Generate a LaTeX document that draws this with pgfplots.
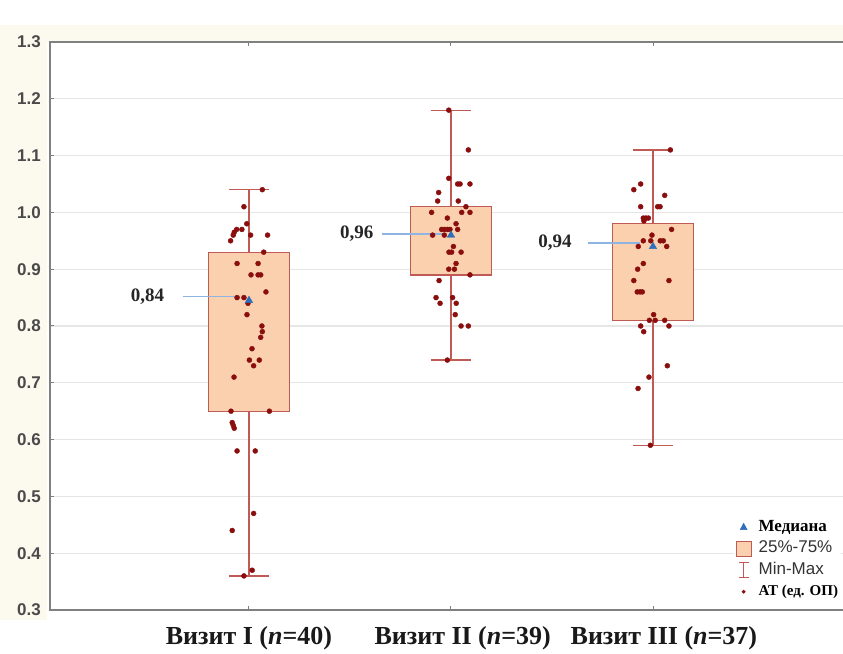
\documentclass[border=0pt]{standalone}
\usepackage{fontspec}
\setmainfont{Liberation Serif}
\setsansfont{Liberation Sans}
\usepackage{pgfplots}
\pgfplotsset{compat=1.18}
\definecolor{cream}{HTML}{FCF9EE}
\definecolor{boxfill}{HTML}{FAD0AE}
\definecolor{boxedge}{HTML}{BF5A55}
\definecolor{ptred}{HTML}{8B0E0E}
\definecolor{medblue}{HTML}{2F6EBA}
\definecolor{medline}{HTML}{8EB4E3}
\definecolor{gridgray}{HTML}{E6E6E6}
\definecolor{axisgray}{HTML}{808080}
\definecolor{tickgray}{HTML}{4A4A4A}

\pgfplotstableread{
x y
1.066 1.04
0.975 1.01
0.989 0.98
0.965 0.97
0.939 0.97
0.927 0.965
0.922 0.96
0.909 0.95
1.008 0.96
1.092 0.96
1.073 0.93
0.941 0.91
1.045 0.91
1.010 0.89
1.045 0.89
1.058 0.89
1.084 0.86
0.941 0.85
0.975 0.85
0.995 0.84
0.990 0.82
1.064 0.80
1.066 0.79
1.058 0.78
1.015 0.76
1.002 0.74
1.051 0.74
1.023 0.73
0.926 0.71
0.911 0.65
1.101 0.65
0.917 0.63
0.922 0.625
0.927 0.62
0.941 0.58
1.031 0.58
1.023 0.47
0.917 0.44
1.016 0.37
0.975 0.36
}\visitA

\pgfplotstableread{
x y
1.989 1.18
2.086 1.11
1.989 1.06
2.033 1.05
2.045 1.05
2.094 1.05
1.939 1.035
1.934 1.02
2.036 1.02
2.074 1.01
1.904 1.00
2.053 1.00
2.094 1.00
1.982 0.99
2.025 0.98
1.954 0.97
1.967 0.97
1.982 0.97
1.995 0.97
2.033 0.97
1.909 0.96
1.967 0.96
2.012 0.94
1.990 0.93
2.003 0.93
2.050 0.93
2.025 0.91
1.989 0.90
2.017 0.90
2.094 0.89
1.941 0.88
1.926 0.85
1.946 0.84
2.008 0.85
2.026 0.84
2.021 0.82
2.050 0.80
2.086 0.80
1.982 0.74
}\visitB

\pgfplotstableread{
x y
3.086 1.11
2.939 1.05
2.905 1.04
3.058 1.03
2.939 1.01
3.023 1.01
3.035 1.01
2.952 0.99
2.965 0.99
2.977 0.99
2.955 0.985
3.092 0.97
2.995 0.96
2.952 0.95
2.989 0.95
3.036 0.95
3.051 0.95
2.927 0.94
3.068 0.94
2.952 0.91
2.924 0.90
2.905 0.88
3.079 0.88
2.922 0.86
2.936 0.86
2.947 0.86
3.003 0.82
2.982 0.81
3.011 0.81
3.058 0.81
2.939 0.80
3.079 0.80
2.954 0.79
3.071 0.73
2.980 0.71
2.926 0.69
2.987 0.59
}\visitC

\begin{document}
\begin{tikzpicture}
\useasboundingbox (0pt,0pt) rectangle (843pt,653pt);
\fill[cream] (0pt,33pt) rectangle (47pt,628pt);
\fill[cream] (0pt,611pt) rectangle (843pt,628pt);
\begin{axis}[
  at={(50pt,43pt)}, anchor=south west,
  scale only axis, width=805pt, height=568pt,
  xmin=0.015, xmax=4.0, ymin=0.3, ymax=1.3,
  axis background/.style={fill=white},
  axis line style={draw=axisgray, line width=1.3pt},
  ytick={0.3,0.4,0.5,0.6,0.7,0.8,0.9,1.0,1.1,1.2,1.3},
  ymajorgrids, grid style={draw=gridgray, line width=1.2pt},
  xtick={1,2,3}, xticklabels={,,},
  major tick length=4pt, tick align=inside,
  tick style={draw=axisgray, line width=1pt},
  yticklabel style={font=\sffamily\bfseries\fontsize{17}{17}\selectfont, text=tickgray, inner sep=0pt, xshift=-9pt},
  extra x ticks={1.0,2.058,3.054},
  extra x tick labels={{Визит I (\textit{n}=40)},{Визит II (\textit{n}=39)},{Визит III (\textit{n}=37)}},
  extra x tick style={major tick length=0pt, grid=none,
     xticklabel style={font=\rmfamily\bfseries\fontsize{26}{26}\selectfont, text=black!90, inner sep=0pt, yshift=-16pt}},
  legend style={at={(0.849,0.1655)}, anchor=north west, draw=none, fill=white,
     inner xsep=2pt, inner ysep=2pt, row sep=3.5pt, column sep=6pt,
     nodes={inner sep=1pt, text height=12pt, text depth=4pt}},
  legend cell align=left,
  /pgf/number format/.cd, fixed, fixed zerofill, precision=1, assume math mode=true
]
% whiskers
\addplot[boxedge, line width=1.3pt, forget plot] coordinates {(1,0.36) (1,1.04)};
\addplot[boxedge, line width=1.3pt, forget plot] coordinates {(0.9,0.36) (1.1,0.36)};
\addplot[boxedge, line width=1.3pt, forget plot] coordinates {(0.9,1.04) (1.1,1.04)};
\addplot[boxedge, line width=1.3pt, forget plot] coordinates {(2,0.74) (2,1.18)};
\addplot[boxedge, line width=1.3pt, forget plot] coordinates {(1.9,0.74) (2.1,0.74)};
\addplot[boxedge, line width=1.3pt, forget plot] coordinates {(1.9,1.18) (2.1,1.18)};
\addplot[boxedge, line width=1.3pt, forget plot] coordinates {(3,0.59) (3,1.11)};
\addplot[boxedge, line width=1.3pt, forget plot] coordinates {(2.9,0.59) (3.1,0.59)};
\addplot[boxedge, line width=1.3pt, forget plot] coordinates {(2.9,1.11) (3.1,1.11)};
% boxes
\addplot[draw=boxedge, fill=boxfill, line width=1.3pt, forget plot] coordinates {(0.8,0.65) (1.2,0.65) (1.2,0.93) (0.8,0.93)} -- cycle;
\addplot[draw=boxedge, fill=boxfill, line width=1.3pt, forget plot] coordinates {(1.8,0.89) (2.2,0.89) (2.2,1.01) (1.8,1.01)} -- cycle;
\addplot[draw=boxedge, fill=boxfill, line width=1.3pt, forget plot] coordinates {(2.8,0.81) (3.2,0.81) (3.2,0.98) (2.8,0.98)} -- cycle;
% median pointer lines
\addplot[medline, line width=1.3pt, forget plot] coordinates {(0.673,0.852) (0.955,0.852)};
\addplot[medline, line width=1.3pt, forget plot] coordinates {(1.66,0.962) (1.96,0.962)};
\addplot[medline, line width=1.3pt, forget plot] coordinates {(2.678,0.946) (2.936,0.946)};
% points
\addplot[only marks, mark=*, mark size=2.5pt, ptred, forget plot] table[x=x,y=y] {\visitA};
\addplot[only marks, mark=*, mark size=2.5pt, ptred, forget plot] table[x=x,y=y] {\visitB};
\addplot[only marks, mark=*, mark size=2.5pt, ptred, forget plot] table[x=x,y=y] {\visitC};
% medians
\addplot[only marks, mark=triangle*, mark size=4.3pt, medblue, forget plot] coordinates {(1,0.845) (2,0.96) (3,0.94)};
% median labels
\node[font=\rmfamily\bfseries\fontsize{19}{19}\selectfont, text=black!85] at (axis cs:0.498,0.852) {0,84};
\node[font=\rmfamily\bfseries\fontsize{19}{19}\selectfont, text=black!85] at (axis cs:1.533,0.962) {0,96};
\node[font=\rmfamily\bfseries\fontsize{19}{19}\selectfont, text=black!85] at (axis cs:2.515,0.946) {0,94};
% legend
\addlegendimage{legend image code/.code={\fill[medblue] (4pt,-2.5pt) -- (11pt,-2.5pt) -- (7.5pt,4pt) -- cycle;}}
\addlegendentry{\rmfamily\bfseries\fontsize{17}{17}\selectfont Медиана}
\addlegendimage{legend image code/.code={\draw[draw=boxedge, fill=boxfill, line width=1pt] (0pt,-7.5pt) rectangle (15pt,7.5pt);}}
\addlegendentry{\sffamily\fontsize{17}{17}\selectfont\color{black!80} 25\%-75\%}
\addlegendimage{legend image code/.code={\draw[boxedge, line width=1pt] (2.5pt,-7.5pt) -- (12.5pt,-7.5pt) (7.5pt,-7.5pt) -- (7.5pt,7.5pt) (2.5pt,7.5pt) -- (12.5pt,7.5pt);}}
\addlegendentry{\sffamily\fontsize{17}{17}\selectfont\color{black!80} Min-Max}
\addlegendimage{legend image code/.code={\fill[ptred] (7.5pt,0pt) circle (1.7pt);}}
\addlegendentry{\rmfamily\bfseries\fontsize{15}{15}\selectfont АТ (ед. ОП)}
\end{axis}
\end{tikzpicture}
\end{document}
